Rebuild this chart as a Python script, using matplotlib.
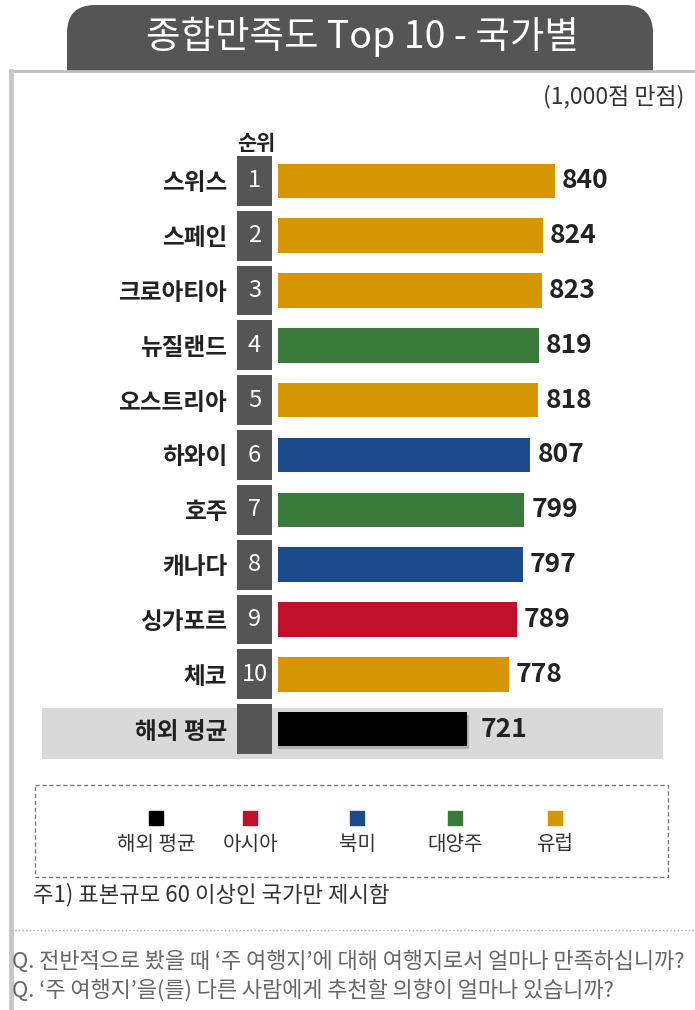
import matplotlib
matplotlib.use("Agg")
import matplotlib.pyplot as plt
import matplotlib.patheffects as pe
from matplotlib.patches import FancyBboxPatch, Rectangle

plt.rcParams["font.family"] = ["Noto Sans CJK KR", "DejaVu Sans"]

# data
countries = ["스위스", "스페인", "크로아티아", "뉴질랜드", "오스트리아",
             "하와이", "호주", "캐나다", "싱가포르", "체코"]
scores = [840, 824, 823, 819, 818, 807, 799, 797, 789, 778]
regions = ["유럽", "유럽", "유럽", "대양주", "유럽",
           "북미", "대양주", "북미", "아시아", "유럽"]
avg_label = "해외 평균"
avg_score = 721

legend_labels = ["해외 평균", "아시아", "북미", "대양주", "유럽"]
legend_colors = ["#000000", "#C0102A", "#1D4A8A", "#3A7A3A", "#D69600"]
region_colors = dict(zip(legend_labels, legend_colors))

title = "종합만족도 Top 10 - 국가별"
unit_note = "(1,000점 만점)"
footnote = "주1) 표본규모 60 이상인 국가만 제시함"
questions = [
    "Q. 전반적으로 봤을 때 ‘주 여행지’에 대해 여행지로서 얼마나 만족하십니까?",
    "Q. ‘주 여행지’을(를) 다른 사람에게 추천할 의향이 얼마나 있습니까?",
]

W, H = 695, 1010
fig = plt.figure(figsize=(W / 100, H / 100), dpi=100)

# background / frame in pixel coordinates
bg = fig.add_axes([0, 0, 1, 1], zorder=-1)
bg.set_xlim(0, W)
bg.set_ylim(H, 0)
bg.axis("off")

bg.add_patch(FancyBboxPatch((67, 5), 586, 65, boxstyle="round,pad=0,rounding_size=28",
                            fc="#555555", ec="none"))
bg.add_patch(Rectangle((67, 36), 586, 35, fc="#555555", ec="none"))
bg.text(362, 37, title, color="white", fontsize=27, ha="center", va="center")
bg.plot([10, W], [71, 71], color="#bdbdbd", lw=2)
bg.plot([11, 11], [71, H], color="#c8c8c8", lw=3.5)

bg.text(684, 97, unit_note, fontsize=16.5, color="#333333", ha="right", va="center")
bg.text(256, 144, "순위", fontsize=15, fontweight="bold", color="#222222",
        ha="center", va="center")

# highlighted row for the overseas average
bg.add_patch(Rectangle((42, 708), 621, 51, fc="#d9d9d9", ec="none"))

# legend
bg.add_patch(Rectangle((35, 785), 633, 92, fill=False, ec="#777777", lw=1,
                       ls=(0, (3, 2))))
leg_x = [156, 250, 357, 455, 555]
bg.scatter(leg_x, [818] * len(leg_x), marker="s", s=115, c=legend_colors)
for x, lab in zip(leg_x, legend_labels):
    bg.text(x, 844, lab, fontsize=14.5, color="#333333", ha="center", va="center")

bg.text(33, 895, footnote, fontsize=16, color="#333333", ha="left", va="center")
bg.plot([11, W], [930, 930], color="#aaaaaa", lw=1, ls=":")
for y, q in zip([962, 990], questions):
    bg.text(12, y, q, fontsize=15.8, color="#666666", ha="left", va="center")

# bars
y_bottom, y_top = 762, 148
ax = fig.add_axes([278 / W, (H - y_bottom) / H, (W - 278) / W, (y_bottom - y_top) / H])
ax.set_facecolor("none")
rows = list(range(len(countries)))
ax.barh(rows, scores, height=0.63, color=[region_colors[r] for r in regions])
avg_bar = ax.barh([len(countries)], [avg_score], height=0.63, color="black")
for p in avg_bar:
    p.set_path_effects([pe.SimplePatchShadow(offset=(2, -2), shadow_rgbFace="#666666",
                                             alpha=0.35), pe.Normal()])
for i, v in enumerate(scores):
    ax.annotate(f"{v}", (v, i), xytext=(5, 0), textcoords="offset points",
                va="center", ha="left", fontsize=19, fontweight="bold", color="#222222")
ax.annotate(f"{avg_score}", (avg_score, len(countries)), xytext=(10, 0),
            textcoords="offset points", va="center", ha="left", fontsize=19,
            fontweight="bold", color="#222222")
ax.set_xlim(466, 466 + (W - 278) / 0.74)
ax.set_ylim(10.6, -0.6)
ax.axis("off")

# rank column
rk = fig.add_axes([237 / W, (H - y_bottom) / H, 35 / W, (y_bottom - y_top) / H])
rk.set_facecolor("none")
all_rows = list(range(len(countries) + 1))
rk.barh(all_rows, [1] * len(all_rows), height=0.91, color="#555555")
for i in rows:
    rk.text(0.5, i, str(i + 1), color="white", fontsize=17, ha="center", va="center")
rk.set_xlim(0, 1)
rk.set_ylim(10.6, -0.6)
rk.set_yticks(all_rows)
rk.set_yticklabels(countries + [avg_label], fontsize=17, fontweight="bold", color="#222222")
rk.tick_params(axis="y", length=0, pad=7)
rk.set_xticks([])
for s in rk.spines.values():
    s.set_visible(False)

fig.savefig("out.png", dpi=100)
